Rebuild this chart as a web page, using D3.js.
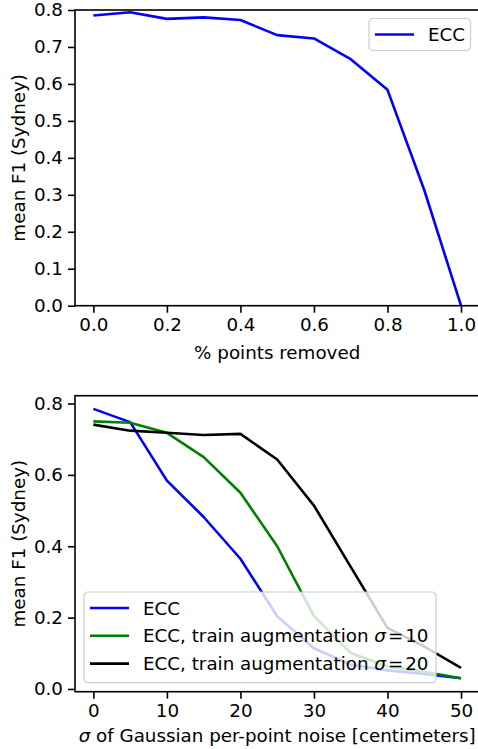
<!DOCTYPE html>
<html>
<head>
<meta charset="utf-8">
<script src="https://cdn.jsdelivr.net/npm/d3@7"></script>
<style>
  body { margin: 0; background: #fff; }
  text { font-family: "DejaVu Sans", sans-serif; fill: #000; }
</style>
</head>
<body>
<script>
// top panel: fraction of points removed
const removed = [0, 0.1, 0.2, 0.3, 0.4, 0.5, 0.6, 0.7, 0.8, 0.9, 1.0]
const eccRemoved = [0.785, 0.794, 0.776, 0.780, 0.773, 0.732, 0.723, 0.667, 0.584, 0.313, 0.0]
const topXTicks = [0, 0.2, 0.4, 0.6, 0.8, 1.0]
const topYTicks = [0, 0.1, 0.2, 0.3, 0.4, 0.5, 0.6, 0.7, 0.8]

// bottom panel: gaussian noise sigma
const sigma = [0, 5, 10, 15, 20, 25, 30, 35, 40, 45, 50]
const ecc = [0.785, 0.748, 0.584, 0.482, 0.365, 0.204, 0.114, 0.068, 0.052, 0.042, 0.030]
const eccAug10 = [0.750, 0.746, 0.718, 0.650, 0.550, 0.400, 0.204, 0.101, 0.063, 0.048, 0.030]
const eccAug20 = [0.741, 0.724, 0.718, 0.712, 0.715, 0.643, 0.514, 0.342, 0.171, 0.119, 0.059]
const botXTicks = [0, 10, 20, 30, 40, 50]
const botYTicks = [0, 0.2, 0.4, 0.6, 0.8]

const W = 478, H = 749
const FS = 18.3

const svg = d3.select(document.body).append('svg')
  .attr('width', W)
  .attr('height', H)

function panel(o) {
  const x = d3.scaleLinear().domain(o.xDomain).range([o.left, o.right])
  const y = d3.scaleLinear().domain(o.yDomain).range([o.bottom, o.top])
  const g = svg.append('g')

  const line = d3.line().x(d => x(d[0])).y(d => y(d[1]))
  o.series.forEach(s => {
    g.append('path')
      .datum(o.xs.map((v, i) => [v, s.values[i]]))
      .attr('d', line)
      .attr('fill', 'none')
      .attr('stroke', s.color)
      .attr('stroke-width', 2.6)
      .attr('stroke-linejoin', 'round')
  })

  const xAxis = g.append('g')
    .attr('transform', `translate(0,${o.bottom})`)
    .call(d3.axisBottom(x).tickValues(o.xTicks).tickFormat(o.xFmt).tickSize(7).tickPadding(5))
  const yAxis = g.append('g')
    .attr('transform', `translate(${o.left},0)`)
    .call(d3.axisLeft(y).tickValues(o.yTicks).tickFormat(o.yFmt).tickSize(7).tickPadding(5))
  ;[xAxis, yAxis].forEach(a => {
    a.select('.domain').remove()
    a.selectAll('line').attr('stroke', '#000').attr('stroke-width', 1.6)
    a.selectAll('text').attr('font-size', FS).attr('font-family', 'DejaVu Sans').attr('fill', '#000')
  })

  g.append('rect')
    .attr('x', o.left).attr('y', o.top)
    .attr('width', o.right - o.left).attr('height', o.bottom - o.top)
    .attr('fill', 'none').attr('stroke', '#000').attr('stroke-width', 1.6)

  g.append('text')
    .attr('x', (o.left + o.right) / 2).attr('y', o.xLabelY)
    .attr('text-anchor', 'middle').attr('font-size', FS)
    .html(o.xLabel)
  g.append('text')
    .attr('transform', `translate(${o.yLabelX},${(o.top + o.bottom) / 2}) rotate(-90)`)
    .attr('text-anchor', 'middle').attr('font-size', FS)
    .text(o.yLabel)

  // legend
  const L = o.legend
  const lg = g.append('g')
  lg.append('rect')
    .attr('x', L.x).attr('y', L.y).attr('width', L.w).attr('height', L.h)
    .attr('rx', 4).attr('fill', '#fff').attr('fill-opacity', 0.8)
    .attr('stroke', '#ccc').attr('stroke-width', 1.2)
  o.series.forEach((s, i) => {
    const cy = L.y + 16 + i * 27.8
    lg.append('line')
      .attr('x1', L.x + 6).attr('x2', L.x + 45)
      .attr('y1', cy).attr('y2', cy)
      .attr('stroke', s.color).attr('stroke-width', 2.6)
    lg.append('text')
      .attr('x', L.x + 59).attr('y', cy + 6.5)
      .attr('font-size', FS)
      .html(s.label)
  })
}

const sig = n => `ECC, train augmentation <tspan font-style="italic">σ</tspan><tspan dx="2">=</tspan><tspan dx="2">${n}</tspan>`

panel({
  left: 75, right: 479.4, top: 10, bottom: 305.7,
  xDomain: [-0.05, 1.05], yDomain: [0, 0.8],
  xs: removed,
  series: [{ values: eccRemoved, color: '#0000ff', label: 'ECC' }],
  xTicks: topXTicks, yTicks: topYTicks,
  xFmt: d3.format('.1f'), yFmt: d3.format('.1f'),
  xLabel: '% points removed', xLabelY: 358.5,
  yLabel: 'mean F1 (Sydney)', yLabelX: 25,
  legend: { x: 369, y: 18.5, w: 101.5, h: 32 }
})

panel({
  left: 75, right: 479.4, top: 395.7, bottom: 691.7,
  xDomain: [-2.5, 52.5], yDomain: [-0.0077, 0.822],
  xs: sigma,
  series: [
    { values: ecc, color: '#0000ff', label: 'ECC' },
    { values: eccAug10, color: '#008000', label: sig(10) },
    { values: eccAug20, color: '#000000', label: sig(20) }
  ],
  xTicks: botXTicks, yTicks: botYTicks,
  xFmt: d3.format('d'), yFmt: d3.format('.1f'),
  xLabel: '<tspan font-style="italic">σ</tspan> of Gaussian per-point noise [centimeters]', xLabelY: 742,
  yLabel: 'mean F1 (Sydney)', yLabelX: 25,
  legend: { x: 84, y: 592, w: 352, h: 90.7 }
})
</script>
</body>
</html>
